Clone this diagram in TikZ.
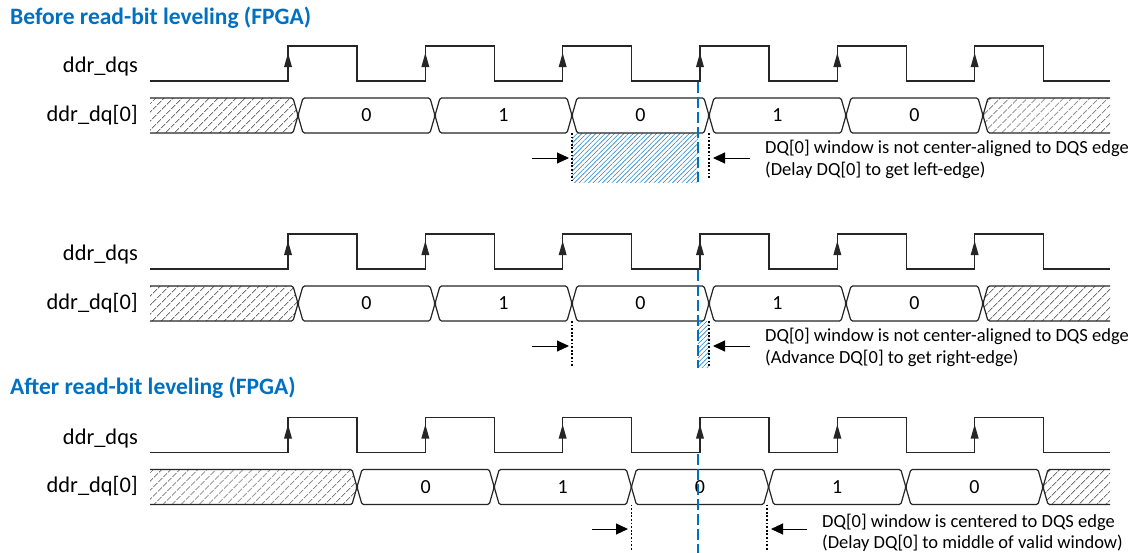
\documentclass[tikz,border=0pt]{standalone}
\usepackage{fontspec}
\setmainfont{Carlito}
\usetikzlibrary{patterns.meta,arrows.meta}
\definecolor{ttl}{RGB}{0,112,192}
\definecolor{wavecol}{RGB}{38,38,38}
\tikzset{
  wave/.style={draw=wavecol, line width=1.2pt, rounded corners=1.5pt},
  hatchgray/.style={pattern={Lines[angle=45,distance=6.5pt,line width=0.8pt]}, pattern color=black!55},
  hatchblue/.style={pattern={Lines[angle=45,distance=3.3pt,line width=0.6pt]}, pattern color=ttl!85},
  bluedash/.style={draw=ttl, line width=1.3pt, dash pattern=on 11pt off 4pt},
  dotline/.style={draw=black, line width=1.7pt, dash pattern=on 1.8pt off 1.8pt},
  markarrow/.style={draw=black, line width=1pt, -{Triangle[length=12pt,width=11pt]}},
  sig/.style={font=\fontsize{22.4}{26}\selectfont, anchor=east, inner sep=0pt},
  digit/.style={font=\fontsize{20}{23}\selectfont, inner sep=0pt},
  note/.style={font=\fontsize{18.5}{22}\selectfont, anchor=west, inner sep=0pt},
  heading/.style={font=\fontsize{23.5}{27}\selectfont\bfseries, text=ttl, anchor=west, inner sep=0pt}
}
% dqs waveform (local coordinates of a section)
\newcommand{\dqswave}{%
  \draw[wave, rounded corners=0pt] (150,81) foreach \k in {0,...,5}{
     -- ({288+137.33*\k},81) -- ({288+137.33*\k},46)
     -- ({357+137.33*\k},46) -- ({357+137.33*\k},81)} -- (1110,81);
  \foreach \k in {0,...,5}
    \fill[wavecol] ({288+137.33*\k-4},67) -- ({288+137.33*\k+4},67) -- ({288+137.33*\k},53) -- cycle;
}
% dq bus: #1 = first crossing, #2 = step, #3 = name prefix
\newcommand{\dqbus}[3]{%
  \path[hatchgray] (150,98) -- ({#1-5},98) -- (#1,115.5) -- ({#1-5},133) -- (150,133) -- cycle;
  \draw[wave] (150,98) -- ({#1-5},98) -- (#1,115.5) -- ({#1-5},133) -- (150,133);
  \foreach \j/\v in {0/0,1/1,2/0,3/1,4/0}{
    \pgfmathsetmacro\xa{#1+#2*\j}
    \pgfmathsetmacro\xb{#1+#2*(\j+1)}
    \draw[wave] (\xa,115.5) -- ({\xa+5},98) -- ({\xb-5},98) -- (\xb,115.5)
       -- ({\xb-5},133) -- ({\xa+5},133) -- cycle;
    \node[digit] (#3d\j) at ({(\xa+\xb)/2},115.5) {\v};
  }
  \pgfmathsetmacro\xe{#1+#2*5}
  \path[hatchgray] (1110,98) -- ({\xe+5},98) -- (\xe,115.5) -- ({\xe+5},133) -- (1110,133) -- cycle;
  \draw[wave] (1110,98) -- ({\xe+5},98) -- (\xe,115.5) -- ({\xe+5},133) -- (1110,133);
}
\begin{document}
\begin{tikzpicture}[x=1pt,y=-1pt]
\useasboundingbox[fill=white] (0,0) rectangle (1136,552);

% ---------------- Section 1 ----------------
\node[heading] (t1) at (10,18) {Before read-bit leveling (FPGA)};
\begin{scope}
  \node[sig] (s1dqs) at (138,67) {ddr\_dqs};
  \node[sig] (s1dq) at (138,115) {ddr\_dq[0]};
  \path[hatchblue] (572,133) rectangle (698,182);
  \dqswave
  \dqbus{298}{137}{a}
  \draw[bluedash] (698,82) -- (698,182);
  \draw[dotline] (572,133) -- (572,181);
  \draw[dotline] (709,133) -- (709,178);
  \coordinate (a1s) at (532,158); \coordinate (a1e) at (569,158);
  \coordinate (a2s) at (750,158); \coordinate (a2e) at (713,158);
  \draw[markarrow] (a1s) -- (a1e);
  \draw[markarrow] (a2s) -- (a2e);
  \node[note] (n1a) at (765,148) {DQ[0] window is not center-aligned to DQS edge};
  \node[note] (n1b) at (765,170) {(Delay DQ[0] to get left-edge)};
\end{scope}

% ---------------- Section 2 ----------------
\begin{scope}[yshift=-188pt]
  \node[sig] (s2dqs) at (138,67) {ddr\_dqs};
  \node[sig] (s2dq) at (138,115) {ddr\_dq[0]};
  \path[hatchblue] (698,133) rectangle (709,179);
  \dqswave
  \dqbus{298}{137}{b}
  \draw[bluedash] (698,82) -- (698,180);
  \draw[dotline] (572,133) -- (572,178);
  \draw[dotline] (709,133) -- (709,178);
  \coordinate (b1s) at (532,158); \coordinate (b1e) at (569,158);
  \coordinate (b2s) at (750,158); \coordinate (b2e) at (713,158);
  \draw[markarrow] (b1s) -- (b1e);
  \draw[markarrow] (b2s) -- (b2e);
  \node[note] (n2a) at (765,148) {DQ[0] window is not center-aligned to DQS edge};
  \node[note] (n2b) at (765,170) {(Advance DQ[0] to get right-edge)};
\end{scope}

% ---------------- Section 3 ----------------
\node[heading] (t2) at (10,388) {After read-bit leveling (FPGA)};
\begin{scope}[yshift=-371.5pt]
  \node[sig] (s3dqs) at (138,67) {ddr\_dqs};
  \node[sig] (s3dq) at (138,115) {ddr\_dq[0]};
  \dqswave
  \dqbus{357}{137.2}{c}
  \draw[bluedash] (698,82) -- (698,181);
  \draw[dotline] (631.5,133) -- (631.5,178);
  \draw[dotline] (767,133) -- (767,178);
  \coordinate (c1s) at (592,157.5); \coordinate (c1e) at (628,157.5);
  \coordinate (c2s) at (807,157.5); \coordinate (c2e) at (771,157.5);
  \draw[markarrow] (c1s) -- (c1e);
  \draw[markarrow] (c2s) -- (c2e);
  \node[note] (n3a) at (822,150.5) {DQ[0] window is centered to DQS edge};
  \node[note] (n3b) at (822,171.5) {(Delay DQ[0] to middle of valid window)};
\end{scope}
\end{tikzpicture}
\end{document}
